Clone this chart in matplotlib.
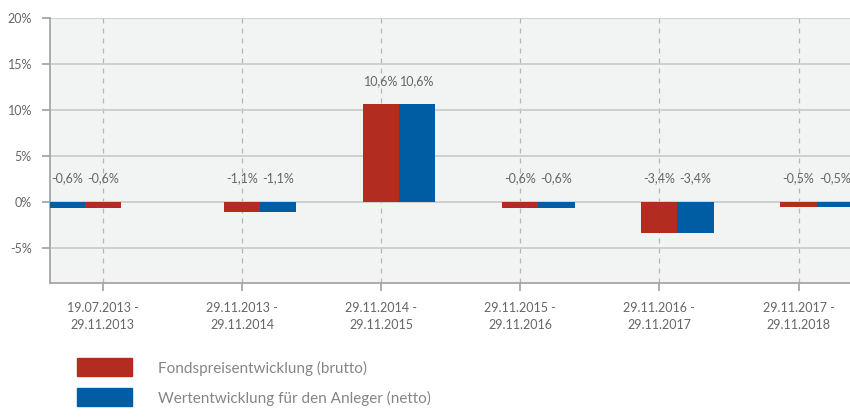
import numpy as np
from matplotlib import pyplot as plt
from matplotlib.patches import Rectangle

# periods and values (percent)
periods = ["19.07.2013 -\n29.11.2013", "29.11.2013 -\n29.11.2014", "29.11.2014 -\n29.11.2015",
           "29.11.2015 -\n29.11.2016", "29.11.2016 -\n29.11.2017", "29.11.2017 -\n29.11.2018"]
brutto = [-0.6, -1.1, 10.6, -0.6, -3.4, -0.5]
netto = [-0.6, -1.1, 10.6, -0.6, -3.4, -0.5]
y_ticks = [-5, 0, 5, 10, 15, 20]

red = "#b22d20"
blue = "#005ca3"
grey_text = "#666666"

plt.rcParams["font.family"] = ["Lato", "DejaVu Sans"]

fig = plt.figure(figsize=(8.5, 4.18), dpi=100)
ax = fig.add_axes([50 / 850, 1 - 283 / 418, 800 / 850, (283 - 18) / 418])
ax.set_facecolor("#f2f3f3")

x = np.arange(len(periods))
w = 0.26
# the original chart draws the first netto bar on the left side of its group
off_netto = np.where(x == 0, -w, w)

ax.bar(x, brutto, width=w, color=red, align="center", zorder=3)
ax.bar(x + off_netto, netto, width=w, color=blue, align="center", zorder=3)

for xi, b, n, o in zip(x, brutto, netto, off_netto):
    for xx, v in ((xi, b), (xi + o, n)):
        ax.text(xx, max(v, 0) + 1.9, f"{v:.1f}%".replace(".", ","), ha="center", va="bottom",
                fontsize=9, color=grey_text, zorder=4)

ax.set_xlim(-0.38, 5.37)
ax.set_ylim(-8.8, 20)
ax.set_yticks(y_ticks)
ax.set_yticklabels([f"{t}%" for t in y_ticks])
ax.set_xticks(x)
ax.set_xticklabels(periods, linespacing=1.5)

ax.yaxis.grid(True, color="#c9cbcb", linewidth=1.2, zorder=1)
ax.xaxis.grid(True, color="#b5b5b5", linestyle=(0, (4, 4)), linewidth=0.9, zorder=1)

for s in ("top", "right"):
    ax.spines[s].set_visible(False)
for s in ("left", "bottom"):
    ax.spines[s].set_color("#a0a0a0")
    ax.spines[s].set_linewidth(1.2)
ax.tick_params(axis="both", colors="#a0a0a0", labelcolor=grey_text, labelsize=9, length=6, width=1.2)
ax.tick_params(axis="y", pad=7)
ax.tick_params(axis="x", pad=8)

# legend drawn as figure patches
legend_items = [("Fondspreisentwicklung (brutto)", red), ("Wertentwicklung für den Anleger (netto)", blue)]
for i, (label, col) in enumerate(legend_items):
    ytop = 358 + i * 30
    fig.patches.append(Rectangle((77 / 850, 1 - (ytop + 18) / 418), 55 / 850, 18 / 418,
                                 transform=fig.transFigure, color=col))
    fig.text(158 / 850, 1 - (ytop + 10) / 418, label, ha="left", va="center",
             fontsize=11, color="#858585")

fig.savefig("out.png", dpi=100)
